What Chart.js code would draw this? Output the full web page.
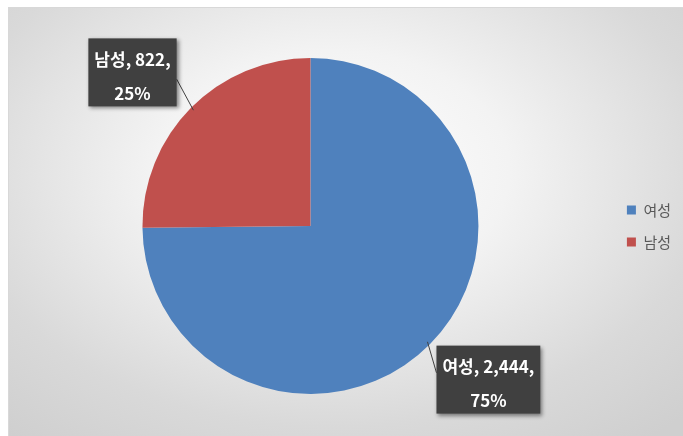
<!DOCTYPE html>
<html>
<head>
<meta charset="utf-8">
<script src="https://cdn.jsdelivr.net/npm/chart.js@4"></script>
<style>
    body { margin: 0; background: #fff; }
    .frame {
        position: absolute; left: 8px; top: 7px; width: 675px; height: 429px;
        background: radial-gradient(ellipse 75% 80% at 48% 38%, #ffffff 0%, #f3f3f3 35%, #d9d9d9 75%, #cfcfcf 100%);
        border-top: 1px solid #d8d8d8; border-left: 1px solid #d8d8d8;
        box-sizing: border-box;
    }
</style>
</head>
<body>
<div class="frame"><canvas id="pieChart" width="675" height="429"></canvas></div>
<script>
//============================================= Data =============================================//
const labels = ['여성', '남성'];
const values = [2444, 822];
const percents = ['75%', '25%'];
const colors = ['#4f81bd', '#c0504d'];

//============================================= Callout labels =============================================//
const calloutLabel = {
    id: 'calloutLabel',
    afterDraw(chart) {
        const {ctx} = chart;
        const meta = chart.getDatasetMeta(0);
        ctx.save();
        ctx.font = 'bold 17px "Noto Sans CJK KR", sans-serif';
        meta.data.forEach((arc, i) => {
            const mid = (arc.startAngle + arc.endAngle) / 2;
            const r = arc.outerRadius;
            const bx = arc.x + Math.cos(mid) * r * 1.49;
            const by = arc.y + Math.sin(mid) * r * 1.3;
            const line1 = labels[i] + ', ' + values[i].toLocaleString('en-US') + ',';
            const line2 = percents[i];
            const w = ctx.measureText(line1).width + 12;
            const h = 68;
            const x0 = bx - w / 2, y0 = by - h / 2;

            // leader line
            const ex = arc.x + Math.cos(mid) * r * 0.98;
            const ey = arc.y + Math.sin(mid) * r * 0.98;
            const sx = Math.cos(mid) < 0 ? x0 + w : x0;
            const sy = Math.sin(mid) < 0 ? y0 + h * 0.6 : y0 + h * 0.4;
            ctx.strokeStyle = '#404040';
            ctx.lineWidth = 1;
            ctx.beginPath();
            ctx.moveTo(sx, sy);
            ctx.lineTo(ex, ey);
            ctx.stroke();

            // box
            ctx.shadowColor = 'rgba(0,0,0,0.45)';
            ctx.shadowBlur = 4;
            ctx.shadowOffsetX = 2;
            ctx.shadowOffsetY = 2;
            ctx.fillStyle = '#404040';
            ctx.fillRect(x0, y0, w, h);
            ctx.shadowColor = 'transparent';

            ctx.fillStyle = '#ffffff';
            ctx.textAlign = 'center';
            ctx.textBaseline = 'middle';
            ctx.fillText(line1, bx, by - 13);
            ctx.fillText(line2, bx, by + 21);
        });
        ctx.restore();
    }
};

//============================================= Pie chart =============================================//
const pieConfig = {
    type: 'pie',
    data: {
        labels: labels,
        datasets: [{
            data: values,
            backgroundColor: colors,
            borderWidth: 0
        }]
    },
    options: {
        responsive: false,
        animation: false,
        layout: {
            padding: {top: 50, bottom: 43, left: 2, right: 3}
        },
        plugins: {
            legend: {
                position: 'right',
                labels: {
                    boxWidth: 9,
                    boxHeight: 9,
                    padding: 17,
                    color: '#595959',
                    font: {family: '"Noto Sans CJK KR", sans-serif', size: 15}
                }
            },
            tooltip: {enabled: false}
        }
    },
    plugins: [calloutLabel]
};

new Chart(document.getElementById('pieChart'), pieConfig);
</script>
</body>
</html>
